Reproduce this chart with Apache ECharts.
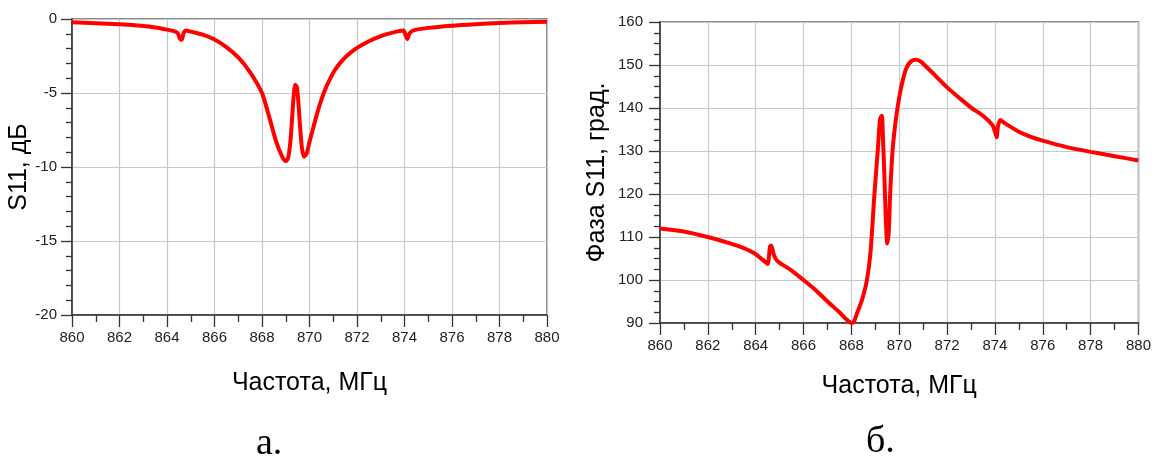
<!DOCTYPE html>
<html>
<head>
<meta charset="utf-8">
<script src="https://cdn.jsdelivr.net/npm/echarts@6/dist/echarts.min.js"></script>
<style>
  html, body { margin: 0; padding: 0; background: #ffffff; }
  #chart { width: 1154px; height: 461px; }
</style>
</head>
<body>
<div id="chart"></div>
<script>
// ---- Data ----
// Chart a: |S11| in dB versus frequency (MHz)
const freqA = [860, 861, 862, 863, 863.5, 864, 864.3, 864.45, 864.55, 864.62, 864.7, 864.8, 865, 865.5, 866, 866.5, 867, 867.5, 868, 868.3, 868.6, 868.85, 869.0, 869.1, 869.2, 869.28, 869.35, 869.4, 869.47, 869.53, 869.6, 869.68, 869.77, 869.88, 870.0, 870.1, 870.25, 870.45, 870.65, 870.85, 871.05, 871.3, 871.6, 872, 872.5, 873, 873.5, 873.95, 874.05, 874.12, 874.2, 874.35, 875, 876, 877, 878, 879, 880];
const s11dB = [-0.22, -0.28, -0.36, -0.48, -0.58, -0.72, -0.82, -0.95, -1.35, -1.4, -0.95, -0.78, -0.85, -1.05, -1.38, -1.9, -2.6, -3.6, -5.0, -6.6, -8.3, -9.3, -9.6, -9.4, -8.2, -6.4, -4.9, -4.45, -4.6, -5.6, -7.2, -8.7, -9.3, -9.1, -8.3, -7.7, -6.8, -5.7, -4.8, -4.1, -3.5, -2.95, -2.45, -1.95, -1.5, -1.15, -0.92, -0.78, -1.1, -1.35, -1.0, -0.78, -0.6, -0.45, -0.35, -0.27, -0.22, -0.18];

// Chart b: phase of S11 in degrees versus frequency (MHz)
const freqB = [860, 861, 862, 863, 863.5, 864, 864.4, 864.5, 864.6, 864.65, 864.75, 864.85, 865, 865.5, 866, 866.5, 867, 867.5, 867.8, 868, 868.1, 868.25, 868.45, 868.65, 868.8, 868.95, 869.1, 869.2, 869.27, 869.32, 869.38, 869.44, 869.5, 869.56, 869.62, 869.72, 869.85, 870.0, 870.15, 870.3, 870.5, 870.7, 870.9, 871, 871.5, 872, 872.5, 873, 873.5, 873.9, 874.0, 874.07, 874.12, 874.22, 874.4, 875, 875.5, 876, 877, 878, 879, 880];
const phaseDeg = [112.0, 111.3, 110.0, 108.4, 107.4, 106.0, 104.2, 103.7, 107.8, 108.0, 106.0, 104.8, 104.0, 102.2, 100.0, 97.7, 95.0, 92.5, 90.8, 90.0, 90.3, 92.5, 95.5, 100.0, 106.5, 119.0, 130.0, 137.5, 138.2, 133.0, 124.0, 114.0, 108.5, 111.0, 120.0, 130.0, 137.0, 142.5, 146.5, 149.3, 150.9, 151.2, 150.8, 150.3, 147.6, 144.8, 142.4, 140.1, 138.2, 136.0, 134.5, 133.2, 135.5, 137.2, 136.5, 134.5, 133.3, 132.4, 130.9, 129.8, 128.8, 127.8];

// Axis settings / labels
const xRange = { min: 860, max: 880, step: 2 };
const yRangeA = { min: -20, max: 0, step: 5 };
const yRangeB = { min: 90, max: 160, step: 10 };
const xTitle = 'Частота, МГц';
const yTitleA = 'S11, дБ';
const yTitleB = 'Фаза S11, град.';
const captions = ['а.', 'б.'];

// ---- Styling ----
const FONT = "'Liberation Sans', Arial, sans-serif";
const tickLabel = { color: '#222', fontFamily: FONT, fontSize: 15 };
const axisLineStyle = { color: '#333', width: 1.5 };
const gridLine = { show: true, lineStyle: { color: '#c8c8c8', width: 1.2 } };

function xAxis(gridIndex, gap) {
  return {
    type: 'value', gridIndex, min: xRange.min, max: xRange.max, interval: xRange.step,
    axisLine: { show: true, onZero: false, lineStyle: axisLineStyle },
    axisTick: { show: true, inside: false, length: 12, lineStyle: { color: '#333', width: 1.3 } },
    minorTick: { show: true, splitNumber: 2, length: 7, lineStyle: { color: '#333', width: 1.3 } },
    axisLabel: Object.assign({ margin: 15 }, tickLabel),
    splitLine: gridLine,
    name: xTitle, nameLocation: 'middle', nameGap: gap,
    nameTextStyle: { fontFamily: FONT, fontSize: 25, color: '#000' }
  };
}
function yAxis(gridIndex, r, minorSplit, title, gap, margin) {
  return {
    type: 'value', gridIndex, min: r.min, max: r.max, interval: r.step,
    axisLine: { show: true, onZero: false, lineStyle: axisLineStyle },
    axisTick: { show: true, inside: false, length: 11, lineStyle: { color: '#333', width: 1.3 } },
    minorTick: { show: true, splitNumber: minorSplit, length: 6, lineStyle: { color: '#333', width: 1.3 } },
    axisLabel: Object.assign({ margin: margin }, tickLabel),
    splitLine: gridLine,
    name: title, nameLocation: 'middle', nameGap: gap,
    nameTextStyle: { fontFamily: FONT, fontSize: 25, color: '#000' }
  };
}

const chart = echarts.init(document.getElementById('chart'), null, { renderer: 'canvas' });
chart.setOption({
  backgroundColor: '#ffffff',
  animation: false,
  grid: [
    { left: 72, top: 19, width: 475, height: 296, show: true, borderColor: '#666', borderWidth: 1.5, backgroundColor: 'transparent' },
    { left: 660, top: 22, width: 483, height: 301, show: true, borderColor: '#666', borderWidth: 1.5, backgroundColor: 'transparent' }
  ],
  xAxis: [xAxis(0, 56), xAxis(1, 51)],
  yAxis: [
    yAxis(0, yRangeA, 5, yTitleA, 34, 15),
    yAxis(1, yRangeB, 4, yTitleB, 50, 17)
  ],
  series: [
    {
      type: 'line', xAxisIndex: 0, yAxisIndex: 0, showSymbol: false, smooth: 0.25,
      data: freqA.map((f, i) => [f, s11dB[i]]),
      lineStyle: { color: '#ff0000', width: 4 }, itemStyle: { color: '#ff0000' }
    },
    {
      type: 'line', xAxisIndex: 1, yAxisIndex: 1, showSymbol: false, smooth: 0.25,
      data: freqB.map((f, i) => [f, phaseDeg[i]]),
      lineStyle: { color: '#ff0000', width: 4 }, itemStyle: { color: '#ff0000' }
    }
  ],
  graphic: [
    { type: 'text', left: 256, top: 425, style: { text: captions[0], fontFamily: "'Liberation Serif', 'Times New Roman', serif", fontSize: 38, fill: '#000' } },
    { type: 'text', left: 866, top: 423, style: { text: captions[1], fontFamily: "'Liberation Serif', 'Times New Roman', serif", fontSize: 38, fill: '#000' } }
  ]
});
</script>
</body>
</html>
